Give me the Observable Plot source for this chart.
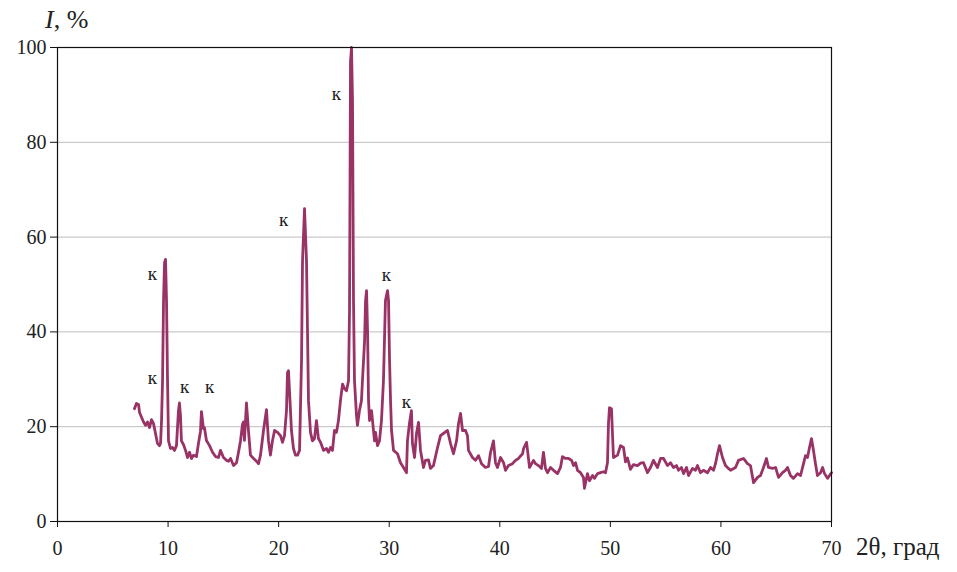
<!DOCTYPE html>
<html>
<head>
<meta charset="utf-8">
<script src="https://cdn.jsdelivr.net/npm/d3@7"></script>
<script src="https://cdn.jsdelivr.net/npm/@observablehq/plot@0.6"></script>
<style>
  html, body { margin: 0; padding: 0; background: #fff; }
  #chart { width: 957px; height: 572px; }
  #chart svg, #chart svg text, #chart svg tspan { font-family: "Liberation Serif", "Times New Roman", "DejaVu Serif", serif !important; }
</style>
</head>
<body>
<div id="chart"></div>
<script>
const twoTheta = [6.96,7.14,7.33,7.42,7.60,7.78,7.96,8.14,8.32,8.50,8.68,8.86,9.04,9.22,9.32,9.41,9.50,9.59,9.68,9.77,9.86,9.95,10.04,10.22,10.40,10.58,10.76,10.94,11.03,11.12,11.21,11.40,11.58,11.76,11.94,12.12,12.30,12.57,12.75,12.93,13.02,13.20,13.29,13.47,13.75,14.02,14.29,14.56,14.74,15.01,15.28,15.47,15.65,15.92,16.19,16.37,16.55,16.73,16.82,16.91,17.09,17.27,17.45,17.73,18.00,18.18,18.36,18.63,18.90,19.08,19.26,19.44,19.63,19.90,20.17,20.35,20.53,20.71,20.80,20.89,20.98,21.16,21.34,21.52,21.71,21.89,22.07,22.16,22.34,22.52,22.61,22.70,22.88,23.06,23.24,23.42,23.60,23.79,24.06,24.33,24.51,24.69,24.87,25.05,25.23,25.41,25.59,25.78,25.96,26.14,26.32,26.41,26.50,26.59,26.68,26.77,26.86,27.04,27.13,27.31,27.49,27.58,27.77,27.86,27.95,28.04,28.13,28.22,28.40,28.49,28.67,28.76,28.94,29.12,29.30,29.48,29.66,29.85,29.94,30.03,30.12,30.21,30.39,30.75,31.02,31.29,31.56,31.65,31.83,32.01,32.10,32.29,32.47,32.65,32.83,33.10,33.28,33.55,33.73,34.00,34.37,34.64,34.91,35.27,35.54,35.81,36.09,36.27,36.45,36.63,36.90,37.08,37.17,37.53,37.80,38.08,38.35,38.71,38.98,39.16,39.43,39.61,39.79,40.07,40.34,40.52,40.79,41.15,41.42,41.69,42.06,42.15,42.42,42.51,42.69,43.05,43.23,43.50,43.77,43.95,44.13,44.32,44.59,44.86,45.22,45.49,45.67,45.94,46.22,46.49,46.67,46.85,47.03,47.30,47.57,47.66,47.93,48.11,48.39,48.57,48.84,49.11,49.38,49.56,49.74,49.83,49.92,50.10,50.28,50.65,50.92,51.19,51.37,51.55,51.82,52.09,52.46,52.73,53.00,53.36,53.63,53.90,54.26,54.54,54.81,55.17,55.44,55.71,55.98,56.16,56.43,56.62,56.89,57.07,57.43,57.70,57.88,58.15,58.42,58.79,59.06,59.33,59.51,59.69,59.87,60.14,60.41,60.68,60.87,61.32,61.59,62.04,62.40,62.67,62.95,63.31,63.58,63.85,64.12,64.30,64.66,64.94,65.21,65.57,65.84,66.02,66.29,66.56,66.93,67.20,67.47,67.65,67.83,68.01,68.19,68.37,68.55,68.73,69.01,69.19,69.37,69.64,69.82,70.00];
const intensity = [23.8,24.9,24.7,23.0,22.0,21.0,20.3,21.0,19.8,21.5,20.7,18.6,16.5,16.0,16.5,21.3,29.7,46.6,54.6,55.3,46.6,30.0,17.0,15.4,15.6,15.0,16.0,23.4,25.0,22.4,17.0,16.2,15.0,13.5,14.6,13.3,14.0,13.7,16.5,19.0,23.2,19.6,19.8,17.1,16.0,14.6,13.7,13.5,15.0,13.5,12.9,12.7,13.3,11.8,12.4,14.6,17.0,20.5,21.0,17.1,25.0,19.2,14.0,13.3,12.7,12.2,14.0,19.2,23.6,17.0,14.0,17.0,19.2,18.8,18.1,16.7,18.1,23.4,31.4,31.8,27.6,19.2,15.4,14.0,14.0,15.0,34.0,55.0,66.0,55.0,40.3,25.5,18.8,17.0,17.5,21.3,17.5,16.7,15.0,15.4,14.6,15.6,15.0,19.2,18.8,21.3,25.5,29.0,28.0,27.6,29.7,44.5,97.0,100,89,46.6,29.7,22.4,20.3,23.4,25.5,29.7,38.0,46.6,48.7,40.3,25.5,21.3,23.4,21.3,17.0,18.8,16.0,17.0,21.3,29.7,46.6,48.7,46.6,34.0,25.5,19.2,15.0,14.3,12.4,11.4,10.3,17.0,20.7,23.4,16.5,13.5,18.6,20.9,15.0,11.4,12.9,13.0,11.2,11.8,15.6,18.1,18.6,19.2,16.5,14.3,17.0,20.7,22.8,19.2,19.2,18.1,15.0,13.5,12.9,13.9,12.2,11.4,11.6,14.5,17.0,12.4,11.4,13.5,12.4,10.8,11.8,12.2,12.9,13.3,14.3,15.4,16.7,15.0,11.4,12.9,12.2,11.8,11.2,14.6,11.2,10.3,11.4,10.8,10.1,11.4,13.7,13.3,13.3,12.9,11.8,12.4,10.8,10.3,9.3,7.0,10.1,8.6,9.7,9.1,10.1,10.3,10.5,10.3,12.4,20.7,24.0,23.8,13.5,14.0,16.0,15.6,12.6,13.4,11.0,12.0,11.8,12.3,12.4,10.3,11.4,12.9,11.4,13.3,13.3,11.8,12.4,11.4,11.8,10.8,11.4,10.1,11.4,9.7,11.2,10.8,11.8,10.3,10.8,10.3,11.4,10.8,12.2,14.3,16.0,13.5,11.8,11.2,10.8,11.4,12.9,13.3,12.2,11.8,8.2,9.3,9.7,11.4,13.3,11.4,11.2,11.4,9.3,10.3,10.8,11.4,9.7,9.1,10.1,9.7,12.2,13.9,13.5,15.6,17.5,15.0,12.2,9.7,10.3,11.4,10.1,9.1,9.7,10.3];

const xTicks = [0, 10, 20, 30, 40, 50, 60, 70];
const yTicks = [0, 20, 40, 60, 80, 100];
const gridValues = [20, 40, 60, 80];

const peakLabelX = [8.59, 25.23, 20.44, 29.75, 8.59, 11.49, 13.75, 31.56];
const peakLabelY = [52.3, 90.3, 63.7, 52.1, 30.2, 28.3, 28.3, 25.3];
const peakLabelText = ["к", "к", "к", "к", "к", "к", "к", "к"];

const xTitle = "2θ, град";
const yTitleItalic = "I";
const yTitleRest = ", %";

const serif = "'Liberation Serif', 'Times New Roman', 'DejaVu Serif', serif";

const chart = Plot.plot({
  width: 957,
  height: 572,
  marginLeft: 57,
  marginRight: 126,
  marginTop: 47,
  marginBottom: 51,
  style: { fontFamily: serif, fontSize: "19px", color: "#222", background: "#fff" },
  x: { domain: [0, 70] },
  y: { domain: [0, 100] },
  marks: [
    Plot.ruleY(gridValues, { stroke: "#bdbdbd", strokeWidth: 1 }),
    Plot.line(twoTheta, { x: twoTheta, y: intensity, stroke: "#993366", strokeWidth: 2.8, strokeLinejoin: "round", curve: "linear" }),
    Plot.frame({ stroke: "#111", strokeWidth: 1.2 }),
    Plot.axisX({ ticks: xTicks, tickSize: 6, tickPadding: 13, label: null, stroke: "#111", fontSize: 20, tickFormat: d => String(d) }),
    Plot.axisY({ ticks: yTicks, tickSize: 7, tickPadding: 4, label: null, stroke: "#111", fontSize: 20, tickFormat: d => String(d) }),
    Plot.text(peakLabelText, { x: peakLabelX, y: peakLabelY, text: peakLabelText, fontSize: 19, fill: "#222", textAnchor: "middle", lineAnchor: "middle" })
  ]
});

document.getElementById("chart").appendChild(chart);

const svg = d3.select(chart);
const yt = svg.append("text")
  .attr("x", 45).attr("y", 28)
  .attr("text-anchor", "start")
  .attr("font-family", serif)
  .attr("font-size", 26)
  .attr("fill", "#222");
yt.append("tspan").attr("font-style", "italic").text(yTitleItalic);
yt.append("tspan").text(yTitleRest);

svg.append("text")
  .attr("x", 856).attr("y", 555)
  .attr("text-anchor", "start")
  .attr("font-family", serif)
  .attr("font-size", 25)
  .attr("fill", "#222")
  .text(xTitle);
</script>
</body>
</html>
